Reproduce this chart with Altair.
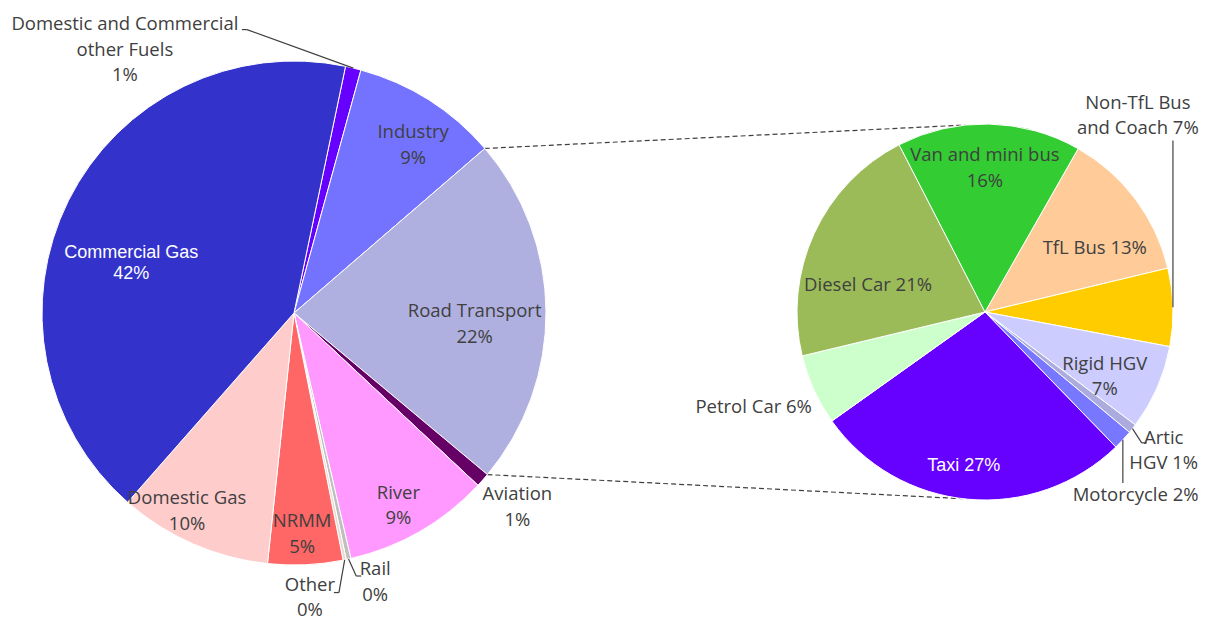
import math
import altair as alt
import pandas as pd

# ---------------- data ----------------
left_names = ["Domestic and Commercial other Fuels", "Industry", "Road Transport", "Aviation",
              "River", "Rail", "Other", "NRMM", "Domestic Gas", "Commercial Gas"]
left_labels = ["Domestic and Commercial\nother Fuels", "Industry", "Road Transport", "Aviation",
               "River", "Rail", "Other", "NRMM", "Domestic Gas", "Commercial Gas"]
left_values = [1.0, 9.4, 22.4, 0.9, 9.4, 0.3, 0.2, 4.8, 9.8, 41.8]
left_colors = ["#6600FF", "#7373FF", "#B0B0E0", "#660066", "#FF99FF", "#BFBFBF", "#E6DCD2",
               "#FF6666", "#FFCCCC", "#3333CC"]

right_names = ["TfL Bus", "Non-TfL Bus and Coach", "Rigid HGV", "Artic HGV", "Motorcycle",
               "Taxi", "Petrol Car", "Diesel Car", "Van and mini bus"]
right_labels = ["TfL Bus", "Non-TfL Bus\nand Coach", "Rigid HGV", "Artic\nHGV", "Motorcycle",
                "Taxi", "Petrol Car", "Diesel Car", "Van and mini bus"]
right_values = [13.0, 6.7, 7.3, 0.8, 1.7, 27.4, 6.1, 21.2, 15.8]
right_colors = ["#FFCC99", "#FFCC00", "#CCCCFF", "#ABABDD", "#7777FF", "#6600FF", "#CCFFCC",
                "#9BBB59", "#33CC33"]

# ---------------- layout ----------------
OFF = 8
W, H = 1192, 612
LC, LR, LSTART = (294 - OFF, 313 - OFF), 252, 11.8
RC, RR, RSTART = (985 - OFF, 312 - OFF), 188, 29.7
DARK_LH, WHITE_LH = 25.5, 21

# per label: (angle nudge deg, label radius px, percent on same line?, white?)
left_layout = {
    "Domestic and Commercial other Fuels": (-46.3, 313, False, False),
    "Industry": (3, 206, False, False),
    "Road Transport": (4, 181, False, False),
    "Aviation": (-0.5, 296, False, False),
    "River": (1.5, 219, False, False),
    "Rail": (-4.3, 281, False, False),
    "Other": (8.4, 285, False, False),
    "NRMM": (0.5, 221, False, False),
    "Domestic Gas": (4.7, 225, False, False),
    "Commercial Gas": (-9.7, 170, False, True),
}
right_layout = {
    "TfL Bus": (6.7, 127, True, False),
    "Non-TfL Bus and Coach": (-50.7, 249, True, False),
    "Rigid HGV": (4.5, 136, False, False),
    "Artic HGV": (-0.6, 226, True, False),
    "Motorcycle": (7.7, 237, True, False),
    "Taxi": (2.7, 155, True, True),
    "Petrol Car": (2.2, 250, True, False),
    "Diesel Car": (-11.7, 120, True, False),
    "Van and mini bus": (-1.3, 144, False, False),
}


def polar(c, r, deg):
    a = math.radians(deg)
    return c[0] + r * math.sin(a), c[1] - r * math.cos(a)


def angles(values, start):
    tot = sum(values)
    out, acc = [], start
    for v in values:
        a0 = acc
        acc += v / tot * 360
        out.append((a0, acc, (a0 + acc) / 2))
    return out


L_ANG = angles(left_values, LSTART)
R_ANG = angles(right_values, RSTART)


def pie_frame(names, values):
    return pd.DataFrame({"name": names, "value": values, "idx": list(range(len(names)))})


def pie(names, values, colors, c, r, start):
    tot = sum(values)
    s = math.radians(start)
    return alt.Chart(pie_frame(names, values)).mark_arc(
        radius=r, stroke="white", strokeWidth=1
    ).encode(
        x=alt.value(c[0]), y=alt.value(c[1]),
        theta=alt.Theta("value:Q", stack=True,
                        scale=alt.Scale(domain=[0, tot], range=[s, s + 2 * math.pi])),
        order=alt.Order("idx:Q"),
        color=alt.Color("name:N", scale=alt.Scale(domain=names, range=colors), legend=None),
    )


rows = []
for names, labels, values, ang, lay, c in [
    (left_names, left_labels, left_values, L_ANG, left_layout, LC),
    (right_names, right_labels, right_values, R_ANG, right_layout, RC),
]:
    tot = sum(values)
    for n, lab, v, (a0, a1, am) in zip(names, labels, values, ang):
        dth, lr, same, white = lay[n]
        pct = f"{round(v / tot * 100)}%"
        txt = f"{lab} {pct}" if same else f"{lab}\n{pct}"
        x, y = polar(c, lr, am + dth)
        nl = txt.count("\n")
        lh = WHITE_LH if white else DARK_LH
        rows.append({"name": n, "text": txt, "x": x, "y": y, "ty": y - nl * lh / 2,
                     "white": white})
lab_df = pd.DataFrame(rows)
pos = {r["name"]: (r["x"], r["y"]) for r in rows}

# leader lines (start at slice edge, from the data angle)
segs = []


def add_path(pts):
    for (x1, y1), (x2, y2) in zip(pts[:-1], pts[1:]):
        segs.append({"x": x1, "y": y1, "x2": x2, "y2": y2})


def edge(c, r, ang, names, n):
    return polar(c, r, ang[names.index(n)][2])


lx, ly = pos["Domestic and Commercial other Fuels"]
add_path([edge(LC, LR, L_ANG, left_names, "Domestic and Commercial other Fuels"),
          (lx + 122, ly - 20), (lx + 117, ly - 20)])
lx, ly = pos["Rail"]
add_path([edge(LC, LR, L_ANG, left_names, "Rail"), (lx - 19, ly - 6), (lx - 14, ly - 6)])
lx, ly = pos["Other"]
add_path([edge(LC, LR, L_ANG, left_names, "Other"), (lx + 29, ly - 5), (lx + 24, ly - 5)])
lx, ly = pos["Non-TfL Bus and Coach"]
e = edge(RC, RR, R_ANG, right_names, "Non-TfL Bus and Coach")
add_path([e, (e[0], ly + 25)])
lx, ly = pos["Artic HGV"]
add_path([edge(RC, RR, R_ANG, right_names, "Artic HGV"), (lx - 22, ly - 7.5), (lx - 17, ly - 7.5)])
lx, ly = pos["Motorcycle"]
e = edge(RC, RR, R_ANG, right_names, "Motorcycle")
add_path([e, (e[0], ly - 12)])
seg_df = pd.DataFrame(segs)

# dashed connectors from the Road Transport slice to the right pie
ri = left_names.index("Road Transport")
p1 = polar(LC, LR, L_ANG[ri][0])
p2 = polar(LC, LR, L_ANG[ri][1])
q1 = polar(RC, RR, -6)
q2 = polar(RC, RR, 186.7)
con_df = pd.DataFrame([{"x": p1[0], "y": p1[1], "x2": q1[0], "y2": q1[1]},
                       {"x": p2[0], "y": p2[1], "x2": q2[0], "y2": q2[1]}])

X = lambda f: alt.X(f, type="quantitative", scale=None, axis=None)
Y = lambda f: alt.Y(f, type="quantitative", scale=None, axis=None)

connectors = alt.Chart(con_df).mark_rule(color="#404040", strokeWidth=1.2, strokeDash=[5, 3]).encode(
    x=X("x"), y=Y("y"), x2="x2", y2="y2")
leaders = alt.Chart(seg_df).mark_rule(color="#404040", strokeWidth=1.2).encode(
    x=X("x"), y=Y("y"), x2="x2", y2="y2")

dark = alt.Chart(lab_df[~lab_df["white"]]).mark_text(
    font="Open Sans", fontSize=18.5, color="#404040", lineBreak="\n", lineHeight=DARK_LH,
    align="center", baseline="middle"
).encode(x=X("x"), y=Y("ty"), text="text:N")
white = alt.Chart(lab_df[lab_df["white"]]).mark_text(
    font="Liberation Sans", fontSize=18, color="white", lineBreak="\n", lineHeight=WHITE_LH,
    align="center", baseline="middle"
).encode(x=X("x"), y=Y("ty"), text="text:N")

left_pie = pie(left_names, left_values, left_colors, LC, LR, LSTART)
right_pie = pie(right_names, right_values, right_colors, RC, RR, RSTART)

chart = alt.layer(connectors, left_pie, right_pie, leaders, dark, white).resolve_scale(
    theta="independent", color="independent"
).properties(width=W, height=H, padding=0, autosize="none").configure_view(stroke=None)

chart.save("out.html", embed_options={"renderer": "svg", "actions": False})
